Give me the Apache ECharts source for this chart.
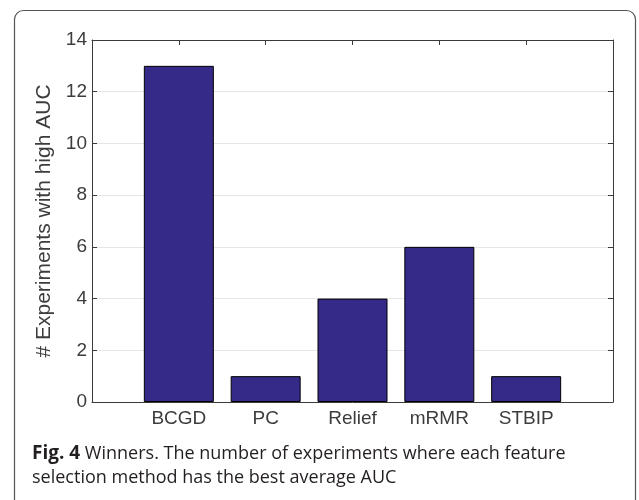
<!DOCTYPE html>
<html>
<head>
<meta charset="utf-8">
<script src="https://cdn.jsdelivr.net/npm/echarts@6/dist/echarts.min.js"></script>
<style>
  html, body { margin: 0; padding: 0; background: #fff; }
  #chart { width: 639px; height: 500px; }
</style>
</head>
<body>
<div id="chart"></div>
<script>
// data
var methods = ['BCGD', 'PC', 'Relief', 'mRMR', 'STBIP'];
var highAucCounts = [13, 1, 4, 6, 1];
var yMax = 14;
var yStep = 2;

var chart = echarts.init(document.getElementById('chart'));

var barData = methods.map(function (m, i) {
    return [i + 1, highAucCounts[i]];
});

var axisColor = '#3a3a3a';
var labelColor = '#3c3c3c';
var font = 'Liberation Sans, Arial, Helvetica, sans-serif';

function frameAxis(extra) {
    var base = {
        type: 'value',
        axisLine: { show: true, onZero: false, lineStyle: { color: axisColor, width: 1 } },
        axisTick: { show: true, inside: true, length: 5, lineStyle: { color: axisColor } },
        splitLine: { show: false },
        axisLabel: { show: false }
    };
    return Object.assign(base, extra);
}

var option = {
    animation: false,
    grid: { left: 92, top: 40, right: 26, bottom: 98 },
    xAxis: [
        frameAxis({
            position: 'bottom', min: 0, max: methods.length + 1, interval: 1,
            axisLabel: {
                show: true, color: labelColor, fontSize: 19, fontFamily: font, margin: 7,
                formatter: function (v) { return methods[v - 1] || ''; }
            }
        }),
        frameAxis({ position: 'top', min: 0, max: methods.length + 1, interval: 1 })
    ],
    yAxis: [
        frameAxis({
            position: 'left', min: 0, max: yMax, interval: yStep,
            name: '# Experiments with high AUC',
            nameLocation: 'middle', nameGap: 30, nameRotate: 90,
            nameTextStyle: { color: labelColor, fontSize: 21, fontFamily: font },
            splitLine: { show: true, lineStyle: { color: '#e6e6e6', width: 1 } },
            axisLabel: { show: true, color: labelColor, fontSize: 19, fontFamily: font, margin: 5 }
        }),
        frameAxis({ position: 'right', min: 0, max: yMax, interval: yStep })
    ],
    series: [
        {
            type: 'bar',
            data: barData,
            barWidth: 70,
            itemStyle: { color: '#352a87', borderColor: '#000', borderWidth: 1 },
            z: 1
        }
    ],
    graphic: [
        {
            type: 'rect', silent: true,
            shape: { x: 14.5, y: 10.5, width: 621, height: 540, r: 9 },
            style: { fill: 'none', stroke: '#555', lineWidth: 1.2 }
        },
        {
            type: 'text', left: 32, top: 442,
            style: {
                text: '{b|Fig. 4} Winners. The number of experiments where each feature\nselection method has the best average AUC',
                font: '18px "Open Sans", sans-serif',
                fill: '#231f20',
                lineHeight: 24,
                rich: {
                    b: { fontWeight: 'bold', fontSize: 19, fontFamily: 'Open Sans', fill: '#231f20', lineHeight: 24 }
                }
            }
        }
    ]
};

chart.setOption(option);
</script>
</body>
</html>
